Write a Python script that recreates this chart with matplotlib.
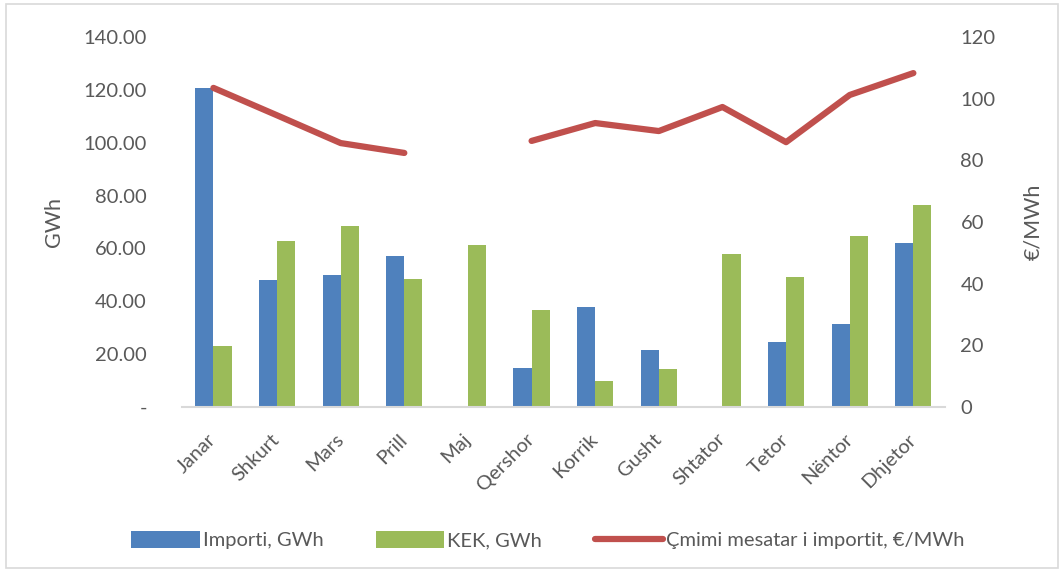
import numpy as np
import matplotlib
matplotlib.use('Agg')
from matplotlib import pyplot as plt
from matplotlib.ticker import FuncFormatter
from matplotlib.patches import Rectangle
import matplotlib.transforms as mtransforms

months = ['Janar', 'Shkurt', 'Mars', 'Prill', 'Maj', 'Qershor', 'Korrik', 'Gusht',
          'Shtator', 'Tetor', 'Nëntor', 'Dhjetor']
importi = [120.7, 48.0, 49.9, 57.1, 0, 14.8, 37.8, 21.6, 0, 24.6, 31.4, 62.0]
kek = [23.1, 62.8, 68.5, 48.4, 61.3, 36.7, 9.8, 14.4, 57.9, 49.2, 64.7, 76.4]
cmimi = [103.5, 94.6, 85.6, 82.4, np.nan, 86.3, 92.1, 89.5, 97.3, 85.9, 101.2, 108.3]

plt.rcParams.update({'font.size': 14.5, 'font.family': ['Lato', 'DejaVu Sans']})
grey = '#595959'

fig = plt.figure(figsize=(10.62, 5.73), dpi=100)
ax = fig.add_axes([0.171, 0.2897, 0.719, 0.6457])
ax2 = ax.twinx()

ind = np.arange(len(months))
width = 0.285
b1 = ax.bar(ind - width / 2, importi, width, color='#4f81bd', label='Importi, GWh')
b2 = ax.bar(ind + width / 2, kek, width, color='#9bbb59', label='KEK, GWh')
l1, = ax2.plot(ind, cmimi, color='#c0504d', linewidth=4.5, solid_capstyle='round',
               label='Çmimi mesatar i importit, €/MWh')

ax.set_xlim(-0.5, len(months) - 0.5)
ax.set_ylim(0, 140)
ax2.set_ylim(0, 120)
ax.set_yticks(np.arange(0, 141, 20))
ax2.set_yticks(np.arange(0, 121, 20))
ax.yaxis.set_major_formatter(FuncFormatter(lambda v, p: '-' if v == 0 else f'{v:.2f}'))

for a in (ax, ax2):
    for s in a.spines.values():
        s.set_visible(False)
    a.tick_params(length=0, colors=grey, labelsize=14.5)
ax.spines['bottom'].set_visible(True)
ax.spines['bottom'].set_color('#d9d9d9')
ax.spines['bottom'].set_linewidth(1.5)
ax.tick_params(axis='y', pad=25)
ax2.tick_params(axis='y', pad=11)

ax.set_xticks(ind)
ax.set_xticklabels(months, rotation=45, ha='right', rotation_mode='anchor')
ax.tick_params(axis='x', pad=17)
shift = mtransforms.ScaledTranslation(-6 / 100, 0, fig.dpi_scale_trans)
for lbl in ax.get_xticklabels():
    lbl.set_transform(lbl.get_transform() + shift)

ax.set_ylabel('GWh', color=grey, fontsize=15.5, labelpad=14)
ax2.set_ylabel('€/MWh', color=grey, fontsize=15.5, labelpad=20)

fig.legend([b1, b2, l1], [b1.get_label(), b2.get_label(), l1.get_label()],
           loc='center', bbox_to_anchor=(0.516, 0.057), ncol=3, frameon=False,
           fontsize=14.5, labelcolor=grey, handlelength=3.4, handleheight=0.9,
           columnspacing=2.6, handletextpad=0.15)

fig.patches.append(Rectangle((0.006, 0.008), 0.99, 0.985, transform=fig.transFigure,
                             fill=False, edgecolor='#d9d9d9', linewidth=1.2))

plt.savefig('out.png', dpi=100, facecolor='white')
